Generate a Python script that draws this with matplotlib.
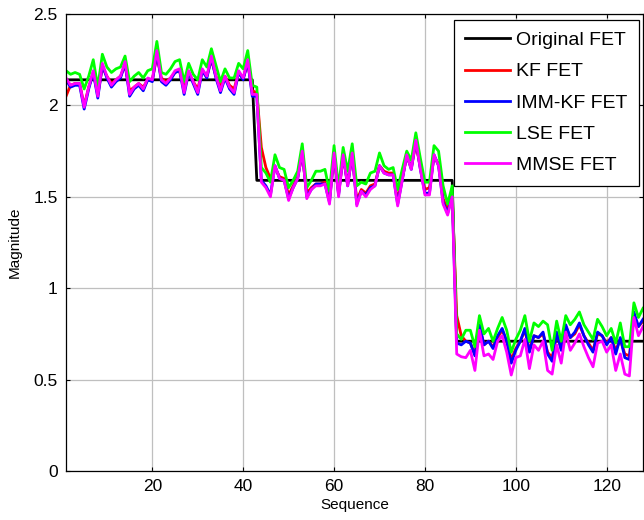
import numpy as np
import matplotlib
matplotlib.use("Agg")
import matplotlib.pyplot as plt

plt.rcParams['font.family'] = ['Liberation Sans', 'DejaVu Sans']

# sequence index 1..128
seq = np.arange(1, 129)

# true (original) FET levels per segment
orig_fet = [2.14] * 42 + [1.59] * 44 + [0.71] * 42

kf_fet = [
    2.05, 2.11, 2.12, 2.12, 2.00, 2.10, 2.18, 2.06, 2.21, 2.16, 2.12, 2.14, 2.16, 2.22, 2.08, 2.10,
    2.12, 2.10, 2.14, 2.14, 2.27, 2.15, 2.13, 2.15, 2.18, 2.19, 2.09, 2.18, 2.13, 2.09, 2.19, 2.16,
    2.25, 2.16, 2.10, 2.16, 2.11, 2.09, 2.18, 2.15, 2.23, 2.08, 2.07,
    1.77, 1.66, 1.60, 1.66, 1.61, 1.60, 1.51, 1.56, 1.61, 1.73, 1.52, 1.55, 1.57, 1.57, 1.58, 1.49,
    1.72, 1.52, 1.72, 1.57, 1.73, 1.48, 1.54, 1.52, 1.56, 1.57, 1.67, 1.64, 1.63, 1.63, 1.48, 1.60,
    1.72, 1.66, 1.79, 1.66, 1.54, 1.55, 1.72, 1.68, 1.49, 1.43, 1.51,
    0.85, 0.74, 0.71, 0.70, 0.64, 0.79, 0.69, 0.71, 0.68, 0.73, 0.77, 0.71, 0.61, 0.67, 0.71, 0.77,
    0.66, 0.74, 0.73, 0.75, 0.65, 0.62, 0.75, 0.67, 0.79, 0.73, 0.75, 0.80, 0.74, 0.70, 0.66, 0.75,
    0.74, 0.70, 0.73, 0.66, 0.72, 0.64, 0.63, 0.85, 0.79, 0.82,
]

imm_kf_fet = [
    2.14, 2.10, 2.11, 2.11, 1.98, 2.09, 2.18, 2.04, 2.22, 2.15, 2.10, 2.13, 2.15, 2.23, 2.05, 2.09,
    2.11, 2.08, 2.14, 2.13, 2.29, 2.13, 2.11, 2.14, 2.18, 2.19, 2.06, 2.18, 2.12, 2.06, 2.19, 2.15,
    2.26, 2.15, 2.07, 2.15, 2.09, 2.06, 2.18, 2.14, 2.24, 2.05, 2.05,
    1.59, 1.56, 1.51, 1.67, 1.60, 1.59, 1.49, 1.55, 1.60, 1.75, 1.50, 1.54, 1.57, 1.57, 1.57, 1.47,
    1.74, 1.51, 1.73, 1.56, 1.74, 1.46, 1.53, 1.51, 1.55, 1.56, 1.67, 1.63, 1.62, 1.62, 1.46, 1.59,
    1.73, 1.65, 1.81, 1.65, 1.52, 1.52, 1.73, 1.67, 1.47, 1.41, 1.51,
    0.70, 0.69, 0.71, 0.70, 0.63, 0.80, 0.69, 0.71, 0.67, 0.74, 0.78, 0.71, 0.59, 0.66, 0.71, 0.78,
    0.65, 0.74, 0.73, 0.76, 0.64, 0.60, 0.76, 0.66, 0.80, 0.73, 0.76, 0.81, 0.74, 0.69, 0.65, 0.76,
    0.74, 0.69, 0.73, 0.64, 0.73, 0.62, 0.61, 0.87, 0.79, 0.83,
]

lse_fet = [
    2.19, 2.17, 2.18, 2.17, 2.09, 2.16, 2.25, 2.10, 2.28, 2.21, 2.18, 2.20, 2.21, 2.27, 2.13, 2.16,
    2.18, 2.15, 2.19, 2.20, 2.35, 2.18, 2.17, 2.20, 2.24, 2.25, 2.13, 2.23, 2.17, 2.14, 2.25, 2.21,
    2.31, 2.22, 2.13, 2.20, 2.15, 2.15, 2.23, 2.20, 2.30, 2.11, 2.10,
    1.66, 1.63, 1.58, 1.73, 1.66, 1.65, 1.55, 1.59, 1.64, 1.79, 1.55, 1.59, 1.64, 1.64, 1.65, 1.53,
    1.78, 1.55, 1.77, 1.64, 1.79, 1.56, 1.58, 1.57, 1.63, 1.64, 1.74, 1.67, 1.65, 1.66, 1.54, 1.65,
    1.75, 1.70, 1.85, 1.71, 1.58, 1.58, 1.78, 1.75, 1.56, 1.46, 1.56,
    0.75, 0.72, 0.77, 0.77, 0.68, 0.85, 0.75, 0.78, 0.71, 0.78, 0.84, 0.77, 0.65, 0.72, 0.77, 0.85,
    0.71, 0.81, 0.79, 0.82, 0.80, 0.66, 0.82, 0.71, 0.85, 0.80, 0.83, 0.87, 0.80, 0.76, 0.72, 0.83,
    0.79, 0.74, 0.78, 0.70, 0.81, 0.68, 0.68, 0.92, 0.84, 0.89,
]

mmse_fet = [
    2.15, 2.11, 2.12, 2.12, 1.99, 2.10, 2.19, 2.05, 2.23, 2.16, 2.11, 2.14, 2.16, 2.24, 2.06, 2.10,
    2.12, 2.09, 2.15, 2.14, 2.30, 2.14, 2.12, 2.15, 2.19, 2.20, 2.07, 2.19, 2.13, 2.07, 2.20, 2.16,
    2.27, 2.16, 2.08, 2.16, 2.10, 2.07, 2.19, 2.15, 2.25, 2.06, 2.06,
    1.58, 1.55, 1.50, 1.67, 1.60, 1.59, 1.48, 1.55, 1.60, 1.75, 1.49, 1.54, 1.56, 1.56, 1.57, 1.46,
    1.74, 1.50, 1.73, 1.56, 1.74, 1.45, 1.53, 1.50, 1.54, 1.56, 1.67, 1.63, 1.62, 1.62, 1.45, 1.59,
    1.73, 1.65, 1.81, 1.65, 1.51, 1.51, 1.73, 1.67, 1.46, 1.40, 1.50,
    0.64, 0.625, 0.62, 0.66, 0.55, 0.77, 0.63, 0.64, 0.61, 0.71, 0.74, 0.65, 0.525, 0.62, 0.63, 0.72,
    0.56, 0.69, 0.66, 0.71, 0.55, 0.53, 0.69, 0.59, 0.76, 0.66, 0.70, 0.75, 0.68, 0.62, 0.57, 0.70,
    0.71, 0.65, 0.69, 0.55, 0.64, 0.53, 0.52, 0.84, 0.74, 0.79,
]

series = [
    ("Original FET", orig_fet, "#000000"),
    ("KF FET", kf_fet, "#ff0000"),
    ("IMM-KF FET", imm_kf_fet, "#0000ff"),
    ("LSE FET", lse_fet, "#00ff00"),
    ("MMSE FET", mmse_fet, "#ff00ff"),
]

fig = plt.figure(figsize=(6.44, 5.2), dpi=100)
ax = fig.add_axes([66 / 644, 49 / 520, 577 / 644, 457 / 520])

for name, vals, col in series:
    ax.plot(seq, vals, color=col, lw=2, label=name)

ax.set_xlim(1, 128)
ax.set_ylim(0, 2.5)
ax.set_xticks([20, 40, 60, 80, 100, 120])
ax.set_yticks([0, 0.5, 1, 1.5, 2, 2.5])
ax.set_yticklabels(["0", "0.5", "1", "1.5", "2", "2.5"])
ax.tick_params(direction="in", top=True, right=True, labelsize=12.5, length=3, pad=6)
ax.grid(True, color="0.75", lw=0.9)
ax.set_axisbelow(True)
for s in ax.spines.values():
    s.set_linewidth(0.9)

ax.set_xlabel("Sequence", fontsize=11, labelpad=3)
ax.set_ylabel("Magnitude", fontsize=11, labelpad=8)

leg = ax.legend(loc="upper right", bbox_to_anchor=(0.993, 0.987), borderaxespad=0,
                fontsize=14, fancybox=False, framealpha=1, edgecolor="black",
                handlelength=2.3, labelspacing=0.7, borderpad=0.6, handletextpad=0.3)
leg.get_frame().set_linewidth(0.9)

fig.savefig("out.png", dpi=100)
